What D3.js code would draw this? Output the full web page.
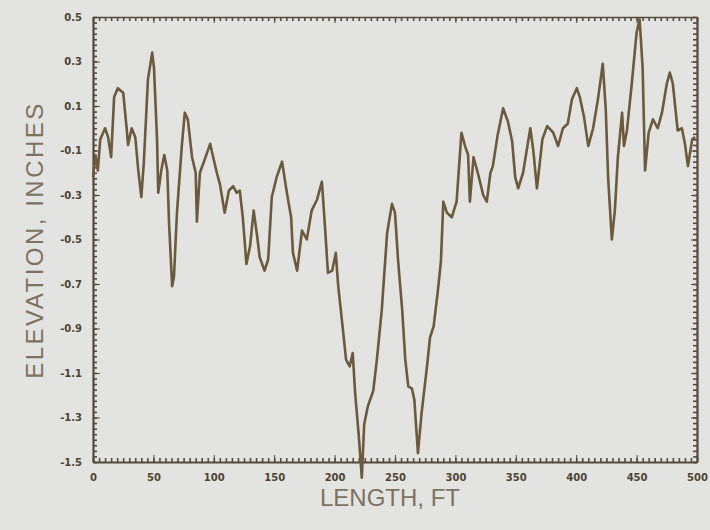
<!DOCTYPE html>
<html lang="en">
<head>
    <meta charset="UTF-8">
    <title>Elevation Profile</title>
    <script src="https://d3js.org/d3.v7.min.js"></script>
    <style>
        body {
            margin: 0;
            background: #e3e4e2;
        }
        .tick-label text {
            font-family: "DejaVu Sans", sans-serif;
            font-weight: bold;
            font-size: 10px;
            fill: #4d4332;
        }
        .axis path, .axis line {
            stroke: #54493a;
        }
        .minor line {
            stroke-width: 1.6;
        }
        .axis-title {
            font-family: "Liberation Sans", "Open Sans", sans-serif;
            font-size: 24px;
            fill: #7d725f;
        }
    </style>
</head>
<body>
    <svg width="710" height="530"></svg>

    <script>
        // profile: length (ft) vs elevation (in)
        const lengthFt = [
            0, 2, 4, 6, 10, 12.5, 15, 17.5, 20.5, 25, 28, 29, 32, 35, 37.5, 40, 42, 45.5, 49, 50.5,
            53, 54, 56.5, 59, 61.5, 63, 65.5, 67, 69.5, 73.5, 76, 78.5, 82, 85, 86, 88.5, 92.5, 97, 99.5, 102.5,
            105, 109, 112.5, 116, 119, 121.5, 124, 127, 130, 133, 136, 138, 142, 145, 148, 152, 156.5, 160.5, 164, 165.5,
            169, 173, 177, 181, 185.5, 189.5, 192, 194.5, 198, 201, 203, 206, 209.5, 212.5, 215, 217, 220, 222.5, 224.5, 227.5,
            232, 235, 239, 243.5, 247.5, 250, 252.5, 256, 258.5, 261, 264, 266, 269, 272, 276.5, 279, 282, 285.5, 288, 290,
            293, 297, 301, 305, 308, 310.5, 312, 315, 319, 323, 326, 329, 331, 335, 339.5, 343.5, 347, 349.5, 352, 356,
            362, 364.5, 367.5, 372, 376, 381, 385, 389, 393, 396.5, 400.5, 403, 406.5, 410, 414, 418, 422, 424.5, 426.5, 429.5,
            432, 434.5, 438, 439.5, 442, 446, 450, 452.5, 455, 457, 460, 463.5, 467.5, 471, 475, 477.5, 480, 484, 487.5, 490,
            492.5, 496, 498.5
        ];
        const elevationIn = [
            -0.22, -0.12, -0.19, -0.05, 0.0, -0.04, -0.13, 0.14, 0.18, 0.16, -0.01, -0.075, 0.0, -0.04, -0.19, -0.31, -0.16, 0.22, 0.34, 0.27,
            -0.05, -0.29, -0.19, -0.12, -0.19, -0.43, -0.71, -0.67, -0.38, -0.08, 0.07, 0.04, -0.13, -0.2, -0.42, -0.2, -0.14, -0.07, -0.13, -0.2,
            -0.25, -0.38, -0.28, -0.26, -0.29, -0.28, -0.4, -0.61, -0.53, -0.37, -0.49, -0.58, -0.64, -0.59, -0.31, -0.22, -0.15, -0.29, -0.4, -0.56,
            -0.64, -0.46, -0.5, -0.37, -0.32, -0.24, -0.44, -0.65, -0.64, -0.56, -0.71, -0.86, -1.04, -1.07, -1.01, -1.19, -1.38, -1.57, -1.33, -1.25,
            -1.18, -1.04, -0.82, -0.47, -0.34, -0.38, -0.59, -0.82, -1.04, -1.16, -1.17, -1.22, -1.46, -1.28, -1.07, -0.94, -0.89, -0.73, -0.6, -0.33,
            -0.38, -0.4, -0.33, -0.02, -0.08, -0.12, -0.33, -0.13, -0.21, -0.3, -0.33, -0.2, -0.17, -0.03, 0.09, 0.03, -0.06, -0.22, -0.27, -0.2,
            0.0, -0.1, -0.27, -0.05, 0.01, -0.02, -0.08, 0.0, 0.02, 0.13, 0.18, 0.14, 0.05, -0.08, 0.0, 0.13, 0.29, 0.08, -0.23, -0.5,
            -0.37, -0.13, 0.07, -0.08, -0.01, 0.2, 0.43, 0.49, 0.27, -0.19, -0.02, 0.04, 0.0, 0.07, 0.2, 0.25, 0.2, -0.01, 0.0, -0.07,
            -0.17, -0.05, -0.04
        ];
        const xTicks = [0, 50, 100, 150, 200, 250, 300, 350, 400, 450, 500];
        const yTicks = [0.5, 0.3, 0.1, -0.1, -0.3, -0.5, -0.7, -0.9, -1.1, -1.3, -1.5];
        const yTickLabels = ["0.5", "0.3", "0.1", "-0.1", "-0.3", "-0.5", "-0.7", "-0.9", "-1.1", "-1.3", "-1.5"];

        const plotLeft = 93, plotRight = 697, plotTop = 17, plotBottom = 462;

        const svg = d3.select("svg");

        const x = d3.scaleLinear().domain([0, 500]).range([plotLeft, plotRight]);
        const y = d3.scaleLinear().domain([-1.5, 0.5]).range([plotBottom, plotTop]);

        const xMinor = d3.range(0, 501, 5);
        const yMinor = d3.range(-1.5, 0.5001, 0.025);

        // minor ticks, all four sides, pointing inward
        svg.append("g").attr("class", "axis minor")
            .attr("transform", `translate(0, ${plotBottom})`)
            .call(d3.axisBottom(x).tickValues(xMinor).tickSize(-4).tickSizeOuter(0).tickFormat(""));
        svg.append("g").attr("class", "axis minor")
            .attr("transform", `translate(0, ${plotTop})`)
            .call(d3.axisTop(x).tickValues(xMinor).tickSize(-4).tickSizeOuter(0).tickFormat(""));
        svg.append("g").attr("class", "axis minor")
            .attr("transform", `translate(${plotLeft}, 0)`)
            .call(d3.axisLeft(y).tickValues(yMinor).tickSize(-4).tickSizeOuter(0).tickFormat(""));
        svg.append("g").attr("class", "axis minor")
            .attr("transform", `translate(${plotRight}, 0)`)
            .call(d3.axisRight(y).tickValues(yMinor).tickSize(-4).tickSizeOuter(0).tickFormat(""));

        // major ticks with labels
        svg.append("g").attr("class", "axis tick-label")
            .attr("transform", `translate(0, ${plotBottom})`)
            .call(d3.axisBottom(x).tickValues(xTicks).tickSize(-7).tickSizeOuter(0).tickPadding(12))
            .call(g => g.select(".domain").attr("stroke-width", 2.2));
        svg.append("g").attr("class", "axis tick-label")
            .attr("transform", `translate(${plotLeft}, 0)`)
            .call(d3.axisLeft(y).tickValues(yTicks).tickSize(-7).tickSizeOuter(0).tickPadding(11)
                .tickFormat((d, i) => yTickLabels[i]))
            .call(g => g.select(".domain").attr("stroke-width", 2.2));

        svg.append("g").attr("class", "axis")
            .attr("transform", `translate(0, ${plotTop})`)
            .call(d3.axisTop(x).tickValues(xTicks).tickSize(-6).tickSizeOuter(0).tickFormat(""))
            .call(g => g.select(".domain").attr("stroke-width", 1.6));
        svg.append("g").attr("class", "axis")
            .attr("transform", `translate(${plotRight}, 0)`)
            .call(d3.axisRight(y).tickValues(yTicks).tickSize(-6).tickSizeOuter(0).tickFormat(""))
            .call(g => g.select(".domain").attr("stroke-width", 2.2));

        // profile line
        const line = d3.line()
            .x((d, i) => x(lengthFt[i]))
            .y(d => y(d));

        svg.append("path")
            .datum(elevationIn)
            .attr("fill", "none")
            .attr("stroke", "#6b5a3c")
            .attr("stroke-width", 2.6)
            .attr("stroke-linejoin", "round")
            .attr("d", line);

        // axis titles
        svg.append("text")
            .attr("class", "axis-title")
            .attr("x", 390)
            .attr("y", 506)
            .attr("text-anchor", "middle")
            .text("LENGTH,  FT");

        svg.append("text")
            .attr("class", "axis-title")
            .attr("transform", "translate(43, 240) rotate(-90)")
            .attr("text-anchor", "middle")
            .attr("letter-spacing", "2.5px")
            .text("ELEVATION,  INCHES");
    </script>
</body>
</html>
